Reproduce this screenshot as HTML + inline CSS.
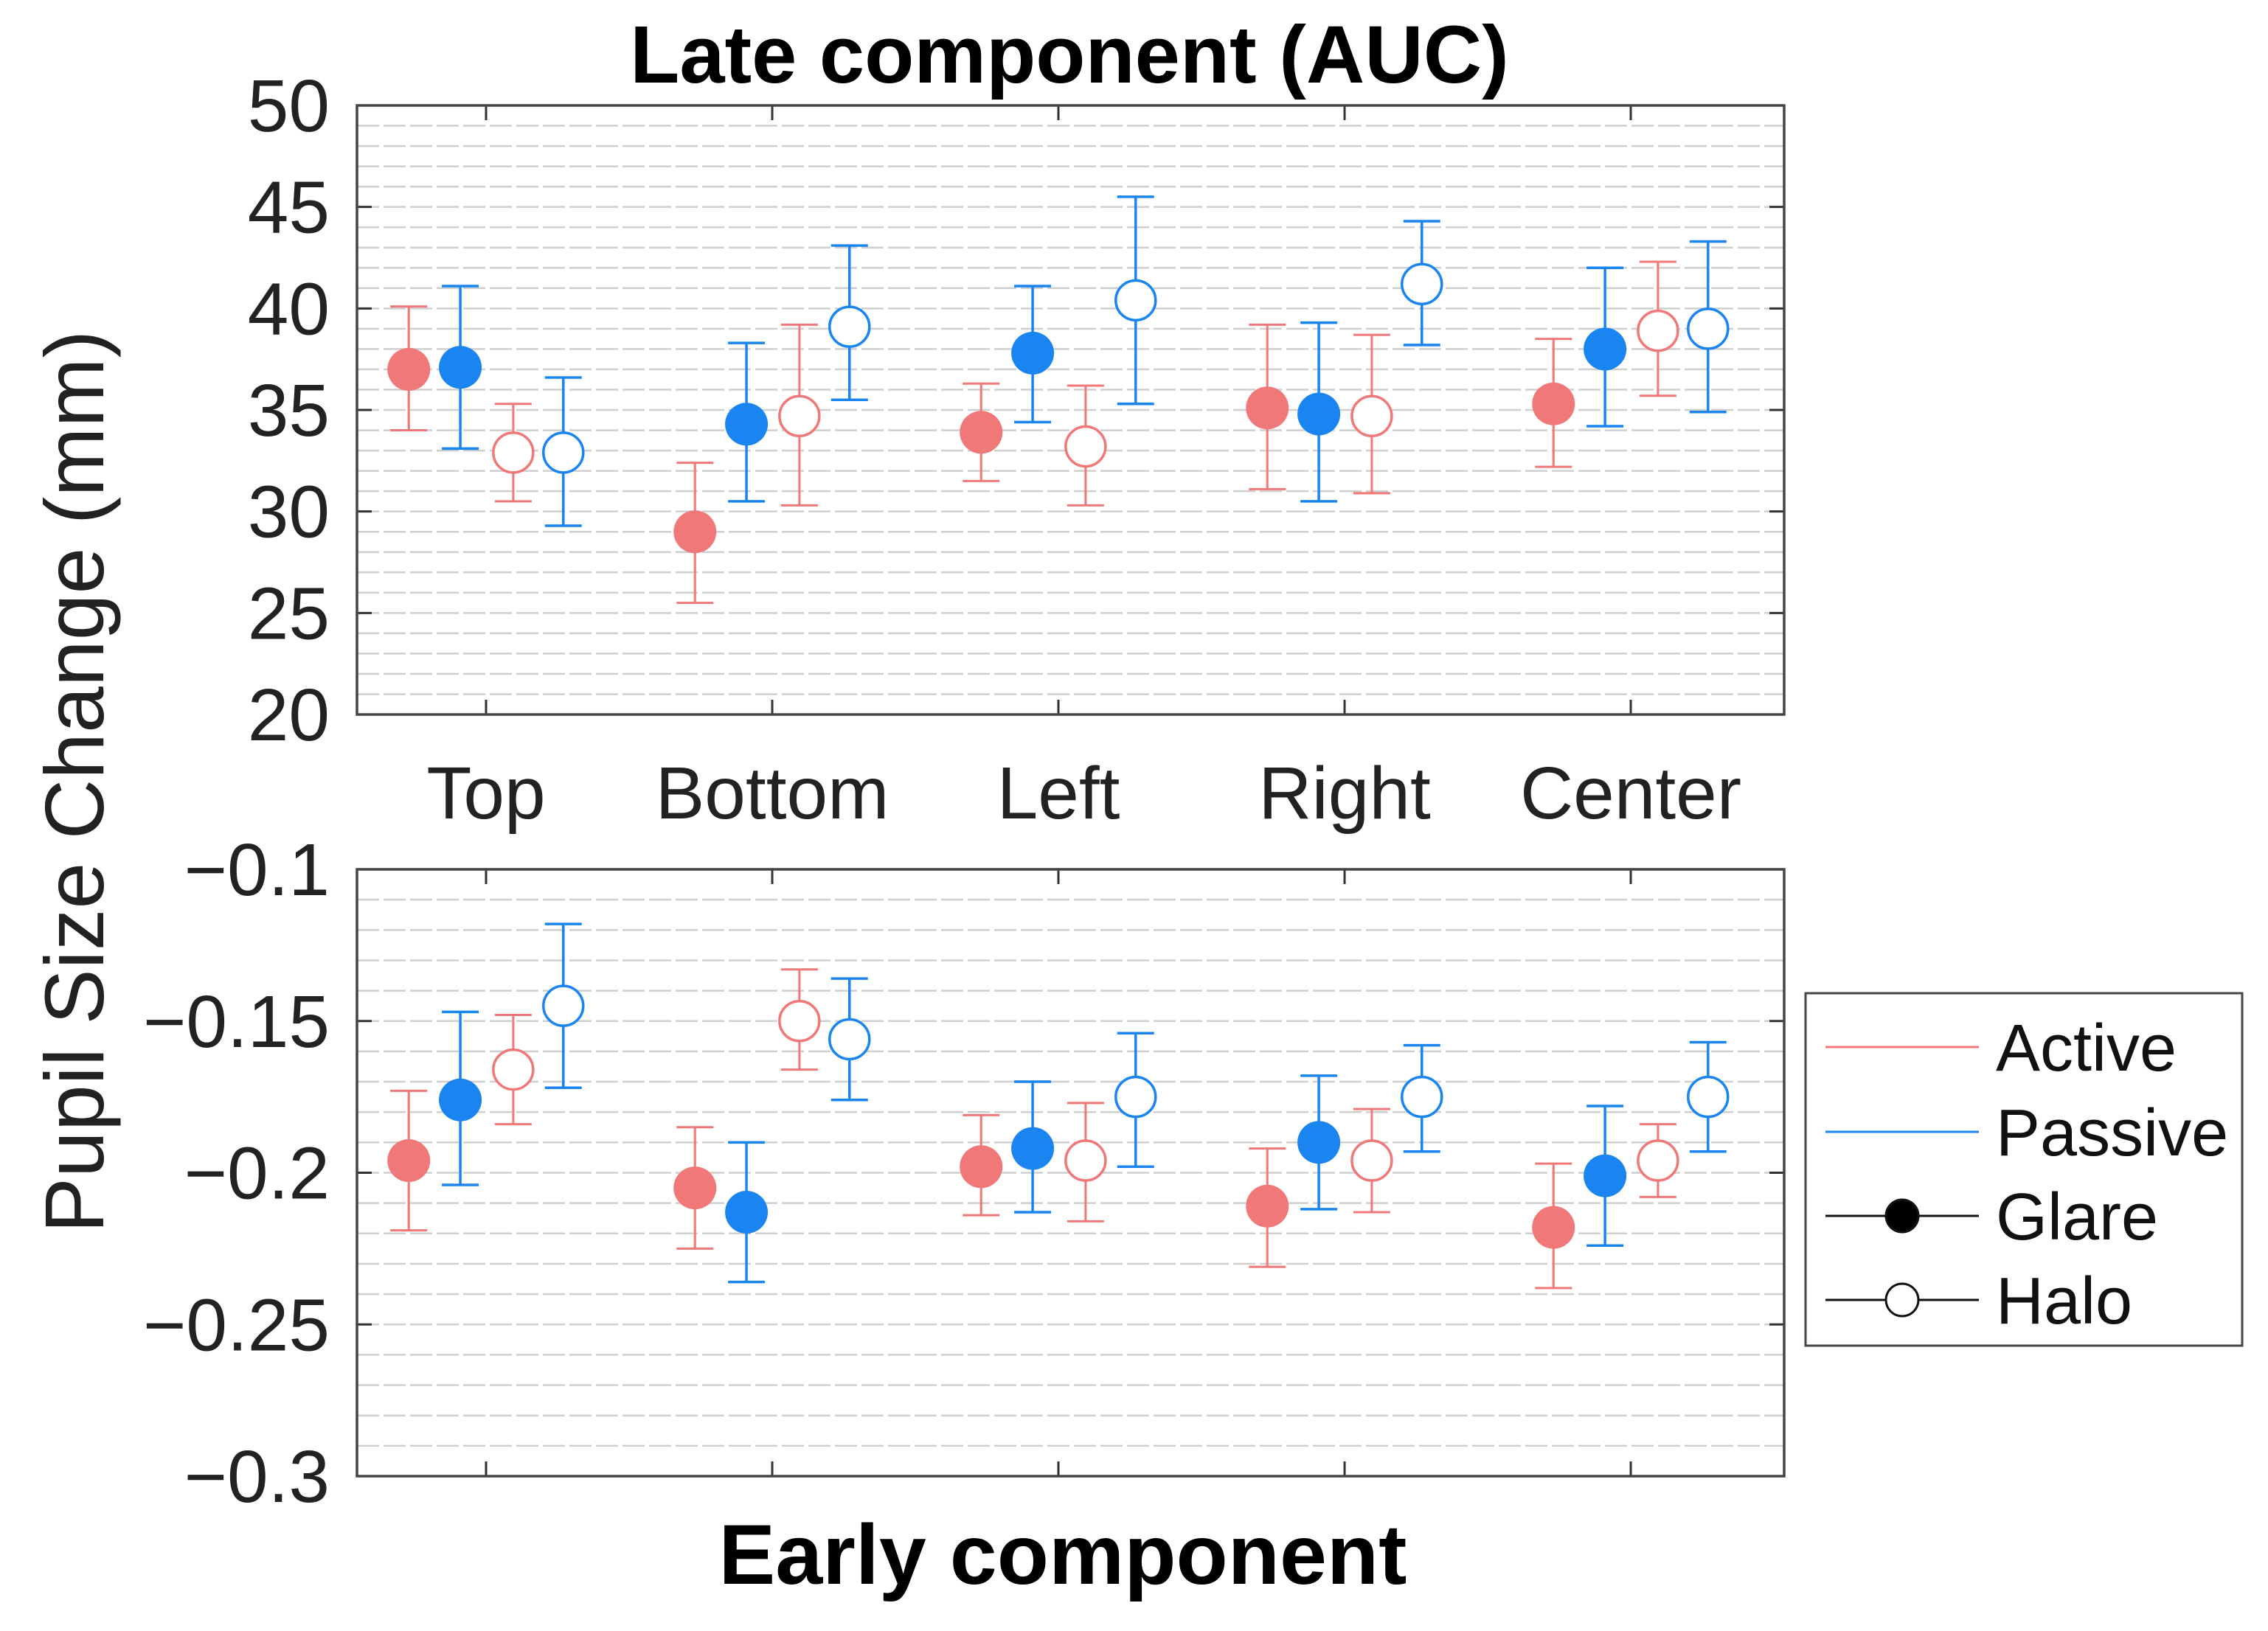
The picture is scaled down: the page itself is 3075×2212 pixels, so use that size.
<!DOCTYPE html>
<html><head><meta charset="utf-8"><style>
html,body{margin:0;padding:0;background:#fff;}
svg{display:block;font-family:"Liberation Sans",Arial,sans-serif;}
</style></head><body>
<svg id="chart" width="3075" height="2212" viewBox="0 0 3075 2212" xmlns="http://www.w3.org/2000/svg">
<rect x="0" y="0" width="3075" height="2212" fill="#fff"/>
<text x="1450" y="112" font-size="110" font-weight="bold" text-anchor="middle" fill="#000">Late component (AUC)</text>
<text x="1441" y="2148" font-size="115" font-weight="bold" text-anchor="middle" fill="#000">Early component</text>
<text transform="translate(140,1060) rotate(-90)" font-size="113" text-anchor="middle" fill="#222">Pupil Size Change (mm)</text>
<g id="top"></g>
<g id="bot"></g>
<g id="legend"></g>
</svg>
<script>
const categories = ["Top","Bottom","Left","Right","Center"];
const seriesNames = ["Active Glare","Passive Glare","Active Halo","Passive Halo"];
// late component (AUC)
const lateMean = [[37,37.1,32.9,32.9],[29,34.3,34.7,39.1],[33.9,37.8,33.2,40.4],[35.1,34.8,34.7,41.2],[35.3,38,38.9,39]];
const lateLow  = [[34,33.1,30.5,29.3],[25.5,30.5,30.3,35.5],[31.5,34.4,30.3,35.3],[31.1,30.5,30.9,38.2],[32.2,34.2,35.7,34.9]];
const lateHigh = [[40.1,41.1,35.3,36.6],[32.4,38.3,39.2,43.1],[36.3,41.1,36.2,45.5],[39.2,39.3,38.7,44.3],[38.5,42,42.3,43.3]];
const lateTicks = [20,25,30,35,40,45,50];
// early component
const earlyMean = [[-0.196,-0.176,-0.166,-0.145],[-0.205,-0.213,-0.150,-0.156],[-0.198,-0.192,-0.196,-0.175],[-0.211,-0.190,-0.196,-0.175],[-0.218,-0.201,-0.196,-0.175]];
const earlyLow  = [[-0.219,-0.204,-0.184,-0.172],[-0.225,-0.236,-0.166,-0.176],[-0.214,-0.213,-0.216,-0.198],[-0.231,-0.212,-0.213,-0.193],[-0.238,-0.224,-0.208,-0.193]];
const earlyHigh = [[-0.173,-0.147,-0.148,-0.118],[-0.185,-0.190,-0.133,-0.136],[-0.181,-0.170,-0.177,-0.154],[-0.192,-0.168,-0.179,-0.158],[-0.197,-0.178,-0.184,-0.157]];
const earlyTicks = [-0.3,-0.25,-0.2,-0.15,-0.1];
const earlyTickLabels = ["\u22120.3","\u22120.25","\u22120.2","\u22120.15","\u22120.1"];

const NS="http://www.w3.org/2000/svg";
const RED="#F07878", BLUE="#1A85F0";
const colors=[RED,BLUE,RED,BLUE], filled=[true,true,false,false];
const offsets=[-0.27,-0.09,0.095,0.27];
const L=484,R=2419;
const xScale=c=>L+(c-0.549)/(5.536-0.549)*(R-L);
function mk(tag,attrs,parent){const e=document.createElementNS(NS,tag);for(const k in attrs)e.setAttribute(k,attrs[k]);parent.appendChild(e);return e;}

function panel(g,top,bot,ymin,ymax,minorStep,ticks,tickLabels,mean,low,high,showCats,pname){
  const y=v=>bot-(v-ymin)/(ymax-ymin)*(bot-top);
  const n=Math.round((ymax-ymin)/minorStep);
  for(let i=1;i<n;i++){
    const ln=mk('line',{x1:L,x2:R,y1:y(ymin+i*minorStep),y2:y(ymin+i*minorStep),stroke:"#cfcfcf","stroke-width":2.5,"stroke-dasharray":"30 6"},g);
    
    
  }
  ticks.forEach((t,i)=>{
    const yy=y(t);
    const a=mk('line',{x1:L,x2:L+20,y1:yy,y2:yy,stroke:"#333","stroke-width":3},g);
    
    
    const b=mk('line',{x1:R,x2:R-20,y1:yy,y2:yy,stroke:"#333","stroke-width":3},g);
    
    
    const tx=mk('text',{x:447,y:yy+35,"font-size":100,"text-anchor":"end",fill:"#222"},g);
    tx.textContent=tickLabels[i];
    
    
  });
  categories.forEach((c,i)=>{
    const xx=xScale(i+1);
    const a=mk('line',{x1:xx,x2:xx,y1:bot,y2:bot-20,stroke:"#333","stroke-width":3},g);
    
    
    const b=mk('line',{x1:xx,x2:xx,y1:top,y2:top+20,stroke:"#333","stroke-width":3},g);
    
    
    if(showCats){
      const t=mk('text',{x:xx,y:1110,"font-size":100,"text-anchor":"middle",fill:"#222"},g);
      t.textContent=c;
      
      
    }
  });
  const box=mk('rect',{x:L,y:top,width:R-L,height:bot-top,fill:"none",stroke:"#444","stroke-width":3.5},g);
  
  
  categories.forEach((c,i)=>{
    for(let s=0;s<4;s++){
      const xx=xScale(i+1+offsets[s]);
      const col=colors[s];
      const sw=(s===1||s===3)?3.5:3;
      const eb=mk('path',{d:`M${xx},${y(low[i][s])}V${y(high[i][s])}M${xx-25},${y(low[i][s])}H${xx+25}M${xx-25},${y(high[i][s])}H${xx+25}`,stroke:col,"stroke-width":sw,fill:"none"},g);
      
      
      const m=mk('circle',{cx:xx,cy:y(mean[i][s]),r:filled[s]?29:27,fill:filled[s]?col:"#fff",stroke:col,"stroke-width":filled[s]?0:3.5},g);
      
      
    }
  });
}
panel(document.getElementById('top'),143,969,20,50,1,lateTicks,lateTicks.map(String),lateMean,lateLow,lateHigh,true,'late');
panel(document.getElementById('bot'),1179,2002,-0.3,-0.1,0.01,earlyTicks,earlyTickLabels,earlyMean,earlyLow,earlyHigh,false,'early');

const lg=document.getElementById('legend');
const lbox=mk('rect',{x:2448,y:1347,width:592,height:478,fill:"#fff",stroke:"#444","stroke-width":3},lg);


const legItems=[["Active",RED,null],["Passive",BLUE,null],["Glare","#111","fill"],["Halo","#111","open"]];
const legY=[1420,1535,1649,1763];
legItems.forEach((it,i)=>{
  const gg=mk('g',{},lg);
  
  
  mk('line',{x1:2475,x2:2683,y1:legY[i],y2:legY[i],stroke:it[1],"stroke-width":3},gg);
  if(it[2]) mk('circle',{cx:2579,cy:legY[i],r:22,fill:it[2]==="fill"?"#000":"#fff",stroke:"#111","stroke-width":3},gg);
  const t=mk('text',{x:2706,y:legY[i]+32,"font-size":90,fill:"#111"},gg);
  t.textContent=it[0];
});
</script>
</body></html>
